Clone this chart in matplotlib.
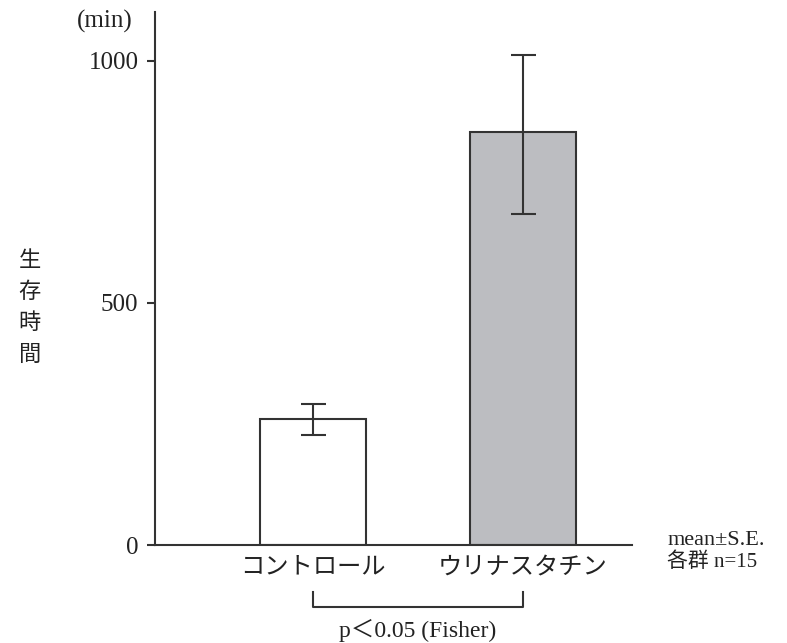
import matplotlib.pyplot as plt
import matplotlib.transforms as mtransforms

groups = ['コントロール', 'ウリナスタチン']
means = [260, 853]
se_low = [32, 170]
se_high = [32, 158]
colors = ['white', '#bcbdc1']

jp = ['Noto Sans CJK JP', 'DejaVu Sans']
serif = ['Liberation Serif', 'Noto Sans CJK JP']

fig = plt.figure(figsize=(7.87, 6.43), dpi=100)
ax = fig.add_axes([0.197, 0.152, 0.606, 0.829])

x = [0, 1]
ax.bar(x, means, width=0.505, color=colors, edgecolor='#333333', linewidth=1.5, zorder=2)
ax.errorbar(x, means, yerr=[se_low, se_high], fmt='none', ecolor='#333333',
            elinewidth=1.5, capsize=9, capthick=1.5, zorder=3)

ax.set_xlim(-0.752, 1.519)
ax.set_ylim(0, 1100)
ax.set_yticks([0, 500, 1000])
ax.set_yticklabels(['0', '500', '1000'], family=serif, fontsize=18, color='#222222')
ax.set_xticks(x)
ax.set_xticklabels(groups, family=jp, fontsize=17.5, color='#222222')
ax.tick_params(axis='x', length=0, pad=6)
ax.tick_params(axis='y', length=6, width=1.5, color='#333333', pad=6)
for s in ['top', 'right']:
    ax.spines[s].set_visible(False)
for s in ['left', 'bottom']:
    ax.spines[s].set_linewidth(1.5)
    ax.spines[s].set_color('#333333')

# significance bracket under the labels
tr = mtransforms.blended_transform_factory(ax.transData, ax.transAxes)
ax.plot([0, 0, 1, 1], [-0.088, -0.116, -0.116, -0.088], color='#333333', lw=1.5,
        transform=tr, clip_on=False)
ax.text(0.5, -0.16, 'p＜0.05 (Fisher)', transform=tr, ha='center', va='center',
        family=serif, fontsize=17, color='#222222')

fig.text(0.133, 0.966, '(min)', ha='center', va='center', family=serif, fontsize=18, color='#222222')
fig.text(0.038, 0.522, '生\n存\n時\n間', ha='center', va='center', family=jp, fontsize=16,
         color='#222222', linespacing=1.45)
fig.text(0.848, 0.16, 'mean±S.E.', ha='left', va='center', family=serif, fontsize=16, color='#222222')
fig.text(0.848, 0.126, '各群 n=15', ha='left', va='center', family=serif, fontsize=15, color='#222222')

fig.savefig('out.png', dpi=100)
